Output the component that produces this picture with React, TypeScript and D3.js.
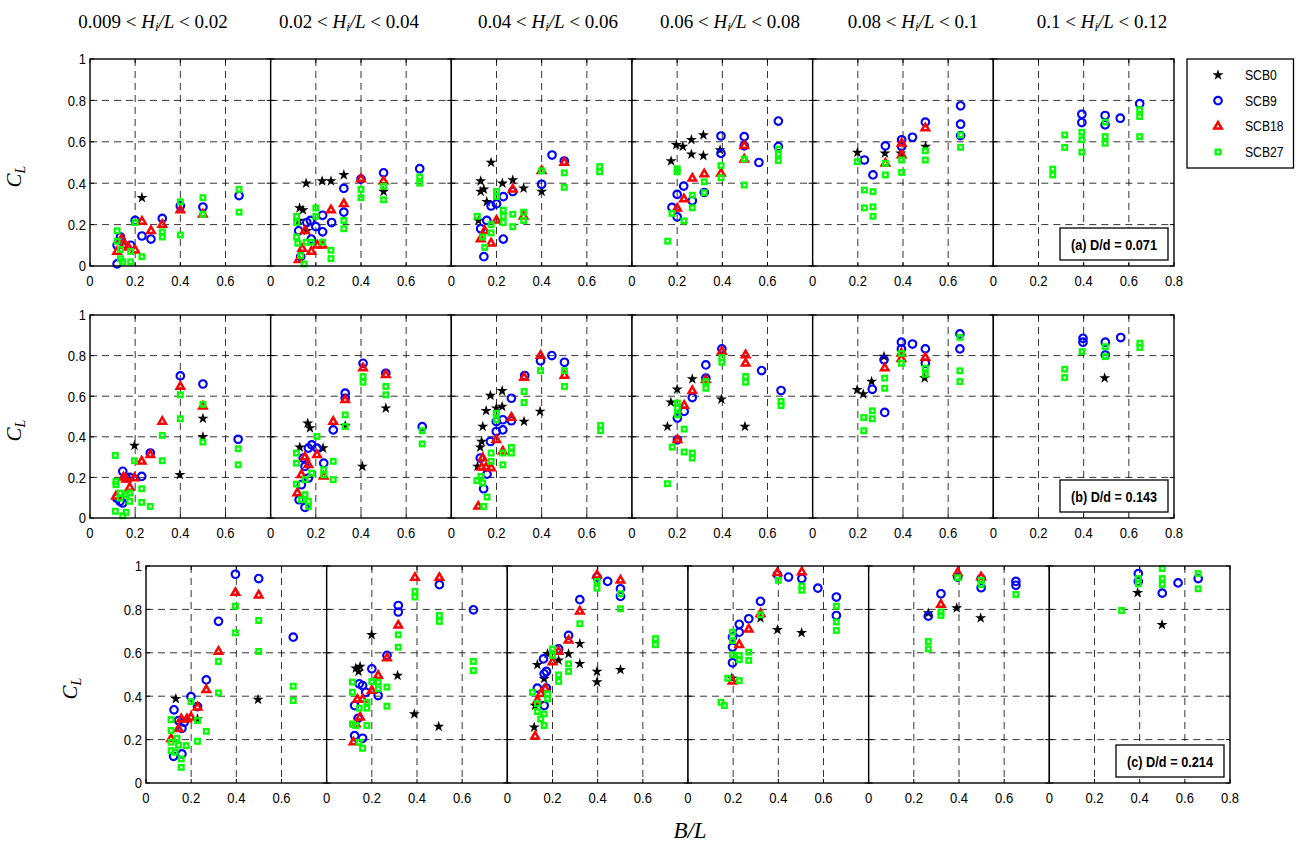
import * as d3 from 'd3'

type Pt = [number, number]

// header ranges of Hi/L, one per column
const LOWER = ['0.009', '0.02', '0.04', '0.06', '0.08', '0.1']
const UPPER = ['0.02', '0.04', '0.06', '0.08', '0.1', '0.12']
const SERIES = ['SCB0', 'SCB9', 'SCB18', 'SCB27']
const BOX_LABELS = ['(a) D/d = 0.071', '(b) D/d = 0.143', '(c) D/d = 0.214']
const X_TICKS = [0, 0.2, 0.4, 0.6, 0.8]
const Y_TICKS = [0, 0.2, 0.4, 0.6, 0.8, 1]

// ---- row (a) D/d = 0.071 : [B/L, CL] per column ----
const SCB0_A: Pt[][] = [
  [[0.23, 0.33]],
  [[0.125, 0.22], [0.128, 0.28], [0.143, 0.27], [0.157, 0.4], [0.16, 0.17], [0.228, 0.41], [0.267, 0.41], [0.324, 0.44], [0.5, 0.36]],
  [[0.12, 0.22], [0.13, 0.41], [0.13, 0.36], [0.144, 0.37], [0.157, 0.31], [0.176, 0.5], [0.226, 0.4], [0.272, 0.415], [0.32, 0.375], [0.4, 0.36]],
  [[0.173, 0.507], [0.196, 0.585], [0.225, 0.577], [0.263, 0.61], [0.316, 0.633], [0.263, 0.54], [0.316, 0.533], [0.39, 0.56]],
  [[0.198, 0.548], [0.32, 0.544], [0.39, 0.544], [0.5, 0.577]],
  [],
]
const SCB9_A: Pt[][] = [
  [[0.12, 0.01], [0.12, 0.1], [0.135, 0.14], [0.14, 0.12], [0.18, 0.1], [0.2, 0.22], [0.23, 0.145], [0.27, 0.13], [0.32, 0.23], [0.4, 0.29], [0.5, 0.285], [0.66, 0.34]],
  [[0.124, 0.17], [0.133, 0.045], [0.16, 0.21], [0.176, 0.22], [0.18, 0.13], [0.2, 0.19], [0.23, 0.245], [0.23, 0.165], [0.27, 0.21], [0.324, 0.375], [0.324, 0.26], [0.4, 0.42], [0.5, 0.45], [0.66, 0.47]],
  [[0.13, 0.18], [0.144, 0.045], [0.157, 0.22], [0.176, 0.29], [0.2, 0.3], [0.23, 0.335], [0.23, 0.13], [0.272, 0.36], [0.4, 0.395], [0.446, 0.536], [0.5, 0.507]],
  [[0.177, 0.283], [0.2, 0.237], [0.2, 0.346], [0.229, 0.386], [0.267, 0.315], [0.32, 0.355], [0.394, 0.628], [0.394, 0.544], [0.497, 0.625], [0.497, 0.58], [0.562, 0.5], [0.648, 0.7], [0.648, 0.577]],
  [[0.229, 0.512], [0.267, 0.44], [0.322, 0.58], [0.394, 0.577], [0.394, 0.61], [0.442, 0.622], [0.499, 0.695], [0.655, 0.774], [0.655, 0.685], [0.655, 0.63]],
  [[0.392, 0.733], [0.392, 0.693], [0.495, 0.727], [0.495, 0.682], [0.562, 0.714], [0.648, 0.784]],
]
const SCB18_A: Pt[][] = [
  [[0.12, 0.07], [0.14, 0.13], [0.15, 0.1], [0.17, 0.09], [0.2, 0.076], [0.23, 0.215], [0.27, 0.17], [0.32, 0.2], [0.4, 0.27], [0.5, 0.25]],
  [[0.124, 0.03], [0.14, 0.084], [0.152, 0.17], [0.18, 0.07], [0.207, 0.1], [0.23, 0.1], [0.267, 0.27], [0.324, 0.3], [0.4, 0.42], [0.5, 0.41]],
  [[0.13, 0.13], [0.148, 0.17], [0.176, 0.11], [0.2, 0.22], [0.272, 0.37], [0.32, 0.24], [0.4, 0.46], [0.5, 0.5]],
  [[0.2, 0.278], [0.23, 0.323], [0.267, 0.423], [0.32, 0.444], [0.394, 0.447], [0.497, 0.58], [0.497, 0.515]],
  [[0.322, 0.496], [0.394, 0.593], [0.394, 0.536], [0.499, 0.666]],
  [],
]
const SCB27_A: Pt[][] = [
  [[0.12, 0.17], [0.12, 0.12], [0.135, 0.08], [0.135, 0.035], [0.145, 0.02], [0.18, 0.07], [0.18, 0.02], [0.2, 0.21], [0.23, 0.045], [0.32, 0.165], [0.32, 0.14], [0.4, 0.31], [0.4, 0.15], [0.5, 0.33], [0.5, 0.25], [0.66, 0.37], [0.66, 0.26]],
  [[0.115, 0.24], [0.115, 0.21], [0.115, 0.14], [0.12, 0.11], [0.133, 0.05], [0.148, 0.01], [0.157, 0.115], [0.18, 0.115], [0.2, 0.28], [0.2, 0.24], [0.23, 0.115], [0.267, 0.076], [0.267, 0.036], [0.324, 0.22], [0.324, 0.18], [0.4, 0.37], [0.4, 0.33], [0.5, 0.385], [0.5, 0.32], [0.66, 0.43], [0.66, 0.4]],
  [[0.115, 0.24], [0.139, 0.14], [0.148, 0.09], [0.176, 0.2], [0.176, 0.16], [0.2, 0.36], [0.2, 0.335], [0.23, 0.27], [0.23, 0.24], [0.23, 0.21], [0.272, 0.25], [0.272, 0.19], [0.32, 0.26], [0.32, 0.22], [0.4, 0.46], [0.5, 0.45], [0.5, 0.38], [0.657, 0.48], [0.657, 0.455]],
  [[0.158, 0.12], [0.177, 0.254], [0.2, 0.47], [0.2, 0.455], [0.23, 0.218], [0.267, 0.342], [0.267, 0.281], [0.32, 0.407], [0.32, 0.354], [0.394, 0.485], [0.394, 0.426], [0.497, 0.517], [0.497, 0.391], [0.648, 0.565], [0.648, 0.54], [0.648, 0.509]],
  [[0.198, 0.504], [0.229, 0.367], [0.267, 0.359], [0.229, 0.281], [0.267, 0.286], [0.267, 0.24], [0.322, 0.496], [0.322, 0.44], [0.394, 0.512], [0.394, 0.452], [0.499, 0.557], [0.499, 0.512], [0.655, 0.633], [0.655, 0.573]],
  [[0.263, 0.468], [0.263, 0.44], [0.316, 0.633], [0.316, 0.573], [0.392, 0.646], [0.392, 0.61], [0.392, 0.55], [0.495, 0.695], [0.495, 0.625], [0.495, 0.593], [0.648, 0.755], [0.648, 0.722], [0.648, 0.625]],
]

// ---- row (b) D/d = 0.143 ----
const SCB0_B: Pt[][] = [
  [[0.197, 0.357], [0.398, 0.213], [0.5, 0.49], [0.5, 0.4]],
  [[0.129, 0.348], [0.164, 0.467], [0.174, 0.443], [0.232, 0.344], [0.33, 0.454], [0.406, 0.254], [0.51, 0.541]],
  [[0.116, 0.254], [0.128, 0.348], [0.134, 0.377], [0.139, 0.451], [0.154, 0.528], [0.173, 0.603], [0.199, 0.541], [0.225, 0.626], [0.225, 0.549], [0.322, 0.475], [0.393, 0.525]],
  [[0.157, 0.451], [0.172, 0.57], [0.2, 0.634], [0.267, 0.685], [0.396, 0.585], [0.5, 0.451]],
  [[0.197, 0.631], [0.224, 0.611], [0.261, 0.672], [0.316, 0.795], [0.496, 0.689]],
  [[0.493, 0.689]],
]
const SCB9_B: Pt[][] = [
  [[0.118, 0.098], [0.133, 0.082], [0.145, 0.23], [0.145, 0.074], [0.16, 0.197], [0.176, 0.2], [0.229, 0.205], [0.267, 0.32], [0.4, 0.7], [0.5, 0.66], [0.656, 0.388]],
  [[0.126, 0.09], [0.136, 0.164], [0.144, 0.295], [0.152, 0.254], [0.167, 0.344], [0.182, 0.36], [0.167, 0.197], [0.152, 0.052], [0.205, 0.344], [0.235, 0.27], [0.277, 0.434], [0.33, 0.615], [0.33, 0.59], [0.409, 0.762], [0.51, 0.713], [0.671, 0.45]],
  [[0.128, 0.295], [0.143, 0.144], [0.158, 0.216], [0.173, 0.377], [0.199, 0.426], [0.199, 0.475], [0.228, 0.484], [0.228, 0.434], [0.266, 0.59], [0.266, 0.479], [0.325, 0.702], [0.395, 0.774], [0.445, 0.8], [0.501, 0.767]],
  [[0.201, 0.385], [0.201, 0.492], [0.231, 0.525], [0.267, 0.593], [0.327, 0.754], [0.327, 0.689], [0.398, 0.833], [0.574, 0.726], [0.66, 0.628]],
  [[0.264, 0.634], [0.316, 0.779], [0.319, 0.52], [0.393, 0.866], [0.393, 0.833], [0.442, 0.857], [0.499, 0.833], [0.499, 0.762], [0.652, 0.907], [0.652, 0.833]],
  [[0.397, 0.885], [0.397, 0.866], [0.496, 0.866], [0.496, 0.803], [0.564, 0.889]],
]
const SCB18_B: Pt[][] = [
  [[0.115, 0.107], [0.148, 0.2], [0.16, 0.19], [0.176, 0.15], [0.197, 0.197], [0.229, 0.279], [0.267, 0.311], [0.32, 0.475], [0.4, 0.647], [0.5, 0.55]],
  [[0.118, 0.123], [0.136, 0.213], [0.152, 0.3], [0.167, 0.262], [0.205, 0.311], [0.235, 0.205], [0.277, 0.475], [0.33, 0.582], [0.409, 0.738], [0.51, 0.705]],
  [[0.119, 0.057], [0.134, 0.249], [0.139, 0.295], [0.154, 0.249], [0.176, 0.246], [0.199, 0.385], [0.228, 0.328], [0.266, 0.495], [0.322, 0.692], [0.395, 0.8], [0.501, 0.702]],
  [[0.201, 0.385], [0.231, 0.554], [0.267, 0.626], [0.327, 0.68], [0.398, 0.82], [0.503, 0.803], [0.503, 0.762]],
  [[0.319, 0.738], [0.393, 0.811], [0.393, 0.784], [0.499, 0.79]],
  [],
]
const SCB27_B: Pt[][] = [
  [[0.112, 0.308], [0.115, 0.18], [0.115, 0.164], [0.112, 0.033], [0.133, 0.123], [0.133, 0.098], [0.145, 0.011], [0.16, 0.028], [0.16, 0.115], [0.176, 0.082], [0.176, 0.123], [0.197, 0.282], [0.229, 0.144], [0.229, 0.077], [0.267, 0.057], [0.32, 0.407], [0.32, 0.282], [0.4, 0.607], [0.4, 0.489], [0.5, 0.56], [0.5, 0.374], [0.656, 0.341], [0.656, 0.262]],
  [[0.114, 0.32], [0.114, 0.27], [0.114, 0.167], [0.136, 0.09], [0.152, 0.115], [0.152, 0.189], [0.167, 0.082], [0.167, 0.057], [0.182, 0.221], [0.205, 0.402], [0.235, 0.238], [0.235, 0.213], [0.277, 0.279], [0.277, 0.189], [0.33, 0.508], [0.33, 0.451], [0.409, 0.697], [0.409, 0.669], [0.51, 0.648], [0.51, 0.607], [0.671, 0.43], [0.671, 0.365]],
  [[0.113, 0.184], [0.131, 0.205], [0.139, 0.172], [0.143, 0.057], [0.158, 0.103], [0.176, 0.32], [0.176, 0.279], [0.199, 0.516], [0.199, 0.484], [0.228, 0.32], [0.228, 0.262], [0.266, 0.348], [0.266, 0.32], [0.322, 0.623], [0.322, 0.569], [0.395, 0.726], [0.501, 0.726], [0.501, 0.648], [0.661, 0.456], [0.661, 0.43]],
  [[0.157, 0.169], [0.178, 0.349], [0.201, 0.566], [0.201, 0.541], [0.201, 0.508], [0.231, 0.438], [0.231, 0.325], [0.267, 0.32], [0.267, 0.295], [0.327, 0.672], [0.327, 0.639], [0.398, 0.79], [0.398, 0.767], [0.503, 0.697], [0.503, 0.669], [0.66, 0.574], [0.66, 0.554]],
  [[0.226, 0.495], [0.226, 0.43], [0.264, 0.528], [0.264, 0.489], [0.319, 0.689], [0.319, 0.639], [0.393, 0.811], [0.393, 0.762], [0.499, 0.738], [0.499, 0.708], [0.652, 0.89], [0.652, 0.725], [0.652, 0.672]],
  [[0.316, 0.733], [0.316, 0.692], [0.393, 0.82], [0.496, 0.844], [0.496, 0.795], [0.649, 0.861], [0.649, 0.84]],
]

// ---- row (c) D/d = 0.214 ----
const SCB0_C: Pt[][] = [
  [[0.132, 0.388], [0.228, 0.295], [0.496, 0.385]],
  [[0.129, 0.529], [0.148, 0.537], [0.141, 0.514], [0.199, 0.683], [0.314, 0.495], [0.388, 0.318], [0.496, 0.26]],
  [[0.119, 0.257], [0.123, 0.357], [0.133, 0.545], [0.163, 0.48], [0.178, 0.595], [0.227, 0.565], [0.271, 0.595], [0.321, 0.642], [0.321, 0.549], [0.397, 0.514], [0.397, 0.465], [0.501, 0.522]],
  [[0.194, 0.483], [0.321, 0.76], [0.396, 0.706], [0.503, 0.692]],
  [[0.264, 0.783], [0.39, 0.806], [0.496, 0.76]],
  [[0.391, 0.877], [0.499, 0.729]],
]
const SCB9_C: Pt[][] = [
  [[0.122, 0.123], [0.124, 0.337], [0.144, 0.288], [0.159, 0.252], [0.169, 0.28], [0.159, 0.134], [0.199, 0.398], [0.228, 0.352], [0.267, 0.475], [0.321, 0.745], [0.396, 0.962], [0.499, 0.942], [0.652, 0.672]],
  [[0.124, 0.357], [0.124, 0.218], [0.139, 0.298], [0.144, 0.457], [0.159, 0.449], [0.159, 0.206], [0.173, 0.418], [0.2, 0.526], [0.228, 0.403], [0.267, 0.588], [0.317, 0.818], [0.317, 0.788], [0.499, 0.914], [0.65, 0.798]],
  [[0.133, 0.437], [0.16, 0.572], [0.163, 0.503], [0.173, 0.514], [0.163, 0.357], [0.173, 0.437], [0.227, 0.618], [0.271, 0.68], [0.321, 0.845], [0.397, 0.949], [0.444, 0.929], [0.501, 0.895], [0.501, 0.86]],
  [[0.197, 0.554], [0.197, 0.626], [0.197, 0.672], [0.227, 0.731], [0.227, 0.695], [0.269, 0.757], [0.321, 0.837], [0.396, 0.96], [0.445, 0.949], [0.504, 0.942], [0.575, 0.898], [0.657, 0.857], [0.657, 0.772]],
  [[0.264, 0.769], [0.32, 0.872], [0.394, 0.949], [0.498, 0.942], [0.498, 0.9], [0.652, 0.929], [0.652, 0.911]],
  [[0.394, 0.965], [0.394, 0.929], [0.5, 0.875], [0.57, 0.922], [0.659, 0.942]],
]
const SCB18_C: Pt[][] = [
  [[0.111, 0.203], [0.144, 0.249], [0.156, 0.295], [0.181, 0.295], [0.199, 0.303], [0.228, 0.349], [0.267, 0.429], [0.321, 0.606], [0.396, 0.877], [0.499, 0.865]],
  [[0.119, 0.188], [0.129, 0.272], [0.136, 0.385], [0.148, 0.303], [0.159, 0.385], [0.2, 0.426], [0.228, 0.495], [0.267, 0.575], [0.317, 0.726], [0.391, 0.946], [0.499, 0.946]],
  [[0.123, 0.215], [0.133, 0.38], [0.148, 0.411], [0.168, 0.434], [0.2, 0.557], [0.227, 0.606], [0.271, 0.657], [0.321, 0.791], [0.397, 0.957], [0.501, 0.934]],
  [[0.197, 0.468], [0.227, 0.637], [0.269, 0.708], [0.321, 0.78], [0.396, 0.969], [0.504, 0.972]],
  [[0.32, 0.822], [0.394, 0.969], [0.498, 0.949]],
  [],
]
const SCB27_C: Pt[][] = [
  [[0.111, 0.292], [0.111, 0.242], [0.111, 0.188], [0.111, 0.149], [0.129, 0.142], [0.137, 0.206], [0.144, 0.175], [0.156, 0.111], [0.156, 0.072], [0.178, 0.172], [0.199, 0.375], [0.228, 0.288], [0.228, 0.192], [0.267, 0.238], [0.321, 0.56], [0.321, 0.415], [0.396, 0.815], [0.396, 0.692], [0.499, 0.749], [0.499, 0.606], [0.652, 0.446], [0.652, 0.38]],
  [[0.114, 0.465], [0.114, 0.418], [0.114, 0.272], [0.129, 0.265], [0.144, 0.188], [0.144, 0.345], [0.159, 0.16], [0.178, 0.265], [0.178, 0.372], [0.178, 0.345], [0.2, 0.468], [0.228, 0.465], [0.228, 0.434], [0.267, 0.442], [0.267, 0.354], [0.317, 0.683], [0.317, 0.626], [0.391, 0.883], [0.391, 0.857], [0.499, 0.772], [0.499, 0.745], [0.65, 0.56], [0.65, 0.518]],
  [[0.111, 0.418], [0.133, 0.365], [0.133, 0.329], [0.148, 0.295], [0.163, 0.318], [0.163, 0.265], [0.178, 0.411], [0.178, 0.388], [0.2, 0.618], [0.2, 0.588], [0.227, 0.498], [0.227, 0.468], [0.271, 0.549], [0.271, 0.514], [0.321, 0.734], [0.397, 0.929], [0.397, 0.898], [0.501, 0.872], [0.501, 0.803], [0.656, 0.665], [0.656, 0.637]],
  [[0.146, 0.372], [0.161, 0.357], [0.176, 0.483], [0.197, 0.591], [0.197, 0.695], [0.197, 0.657], [0.227, 0.588], [0.227, 0.568], [0.227, 0.472], [0.269, 0.603], [0.269, 0.565], [0.321, 0.775], [0.4, 0.934], [0.504, 0.908], [0.504, 0.888], [0.657, 0.815], [0.657, 0.742], [0.657, 0.703]],
  [[0.264, 0.652], [0.264, 0.618], [0.32, 0.788], [0.32, 0.772], [0.394, 0.946], [0.498, 0.934], [0.498, 0.914], [0.652, 0.869]],
  [[0.32, 0.795], [0.394, 0.942], [0.394, 0.918], [0.5, 0.988], [0.5, 0.942], [0.5, 0.915], [0.659, 0.965], [0.659, 0.895]],
]

const ROW_DATA = [
  [SCB0_A, SCB9_A, SCB18_A, SCB27_A],
  [SCB0_B, SCB9_B, SCB18_B, SCB27_B],
  [SCB0_C, SCB9_C, SCB18_C, SCB27_C],
]

// layout
const W = 1299
const H = 843
const ROW_W = 1084
const PANEL_W = ROW_W / 6
const ROWS = [
  { left: 90, top: 59, bottom: 266 },
  { left: 90, top: 315, bottom: 518 },
  { left: 146, top: 566, bottom: 783 },
]
const TITLE_X = [153, 349, 548, 730, 913, 1102]
const SANS = '"Liberation Sans", Arial, sans-serif'
const SERIF = '"Liberation Serif", "Times New Roman", serif'
const COLORS = ['#000000', '#0000ff', '#ff0000', '#00ff00']

const starD = d3.symbol().type(d3.symbolStar).size(38)() as string
const triD = d3.symbol().type(d3.symbolTriangle).size(24)() as string

function Marker({ s }: { s: number }) {
  if (s === 0) return <path d={starD} fill={COLORS[0]} />
  if (s === 1) return <circle r={3.8} fill="none" stroke={COLORS[1]} strokeWidth={2.1} />
  if (s === 2) return <path d={triD} fill="none" stroke={COLORS[2]} strokeWidth={2.5} />
  return <rect x={-2.3} y={-2.3} width={4.6} height={4.6} fill="none" stroke={COLORS[3]} strokeWidth={2.3} />
}

// condensed sans label, like the exported figure
function Sans({ x, y, anchor = 'middle', size = 15, sx = 0.87, children }: any) {
  return (
    <text
      transform={`translate(${x},${y}) scale(${sx},1)`}
      textAnchor={anchor}
      fontFamily={SANS}
      fontSize={size}
      fill="#000"
    >
      {children}
    </text>
  )
}

function Row({ ri }: { ri: number }) {
  const g = ROWS[ri]
  const y = d3.scaleLinear().domain([0, 1]).range([g.bottom, g.top])
  const xs = d3.range(6).map(p =>
    d3.scaleLinear().domain([0, 0.8]).range([g.left + p * PANEL_W, g.left + (p + 1) * PANEL_W])
  )
  const right = g.left + ROW_W
  const cy = (g.top + g.bottom) / 2

  return (
    <g>
      {xs.map((x, p) => (
        <g key={p}>
          <rect x={x(0)} y={g.top} width={PANEL_W} height={g.bottom - g.top} fill="#fff" />
          {X_TICKS.slice(1, 4).map(t => (
            <line key={'v' + t} x1={x(t)} x2={x(t)} y1={g.top} y2={g.bottom}
              stroke="#000" strokeWidth={0.8} strokeDasharray="7 5" />
          ))}
          {Y_TICKS.slice(1, 5).map(t => (
            <line key={'h' + t} x1={x(0)} x2={x(0.8)} y1={y(t)} y2={y(t)}
              stroke="#000" strokeWidth={0.8} strokeDasharray="7 5" />
          ))}
          {X_TICKS.map(t => (
            <g key={'t' + t}>
              <line x1={x(t)} x2={x(t)} y1={g.bottom} y2={g.bottom - 4} stroke="#000" strokeWidth={1} />
              <line x1={x(t)} x2={x(t)} y1={g.top} y2={g.top + 4} stroke="#000" strokeWidth={1} />
            </g>
          ))}
          {Y_TICKS.map(t => (
            <g key={'yt' + t}>
              <line x1={x(0)} x2={x(0) + 4} y1={y(t)} y2={y(t)} stroke="#000" strokeWidth={1} />
              <line x1={x(0.8)} x2={x(0.8) - 4} y1={y(t)} y2={y(t)} stroke="#000" strokeWidth={1} />
            </g>
          ))}
          {ROW_DATA[ri].map((series, s) => (
            <g key={'s' + s}>
              {series[p].map((d, k) => (
                <g key={k} transform={`translate(${x(d[0])},${y(d[1])})`}>
                  <Marker s={s} />
                </g>
              ))}
            </g>
          ))}
          <rect x={x(0)} y={g.top} width={PANEL_W} height={g.bottom - g.top}
            fill="none" stroke="#000" strokeWidth={1.4} />
          {(p === 5 ? X_TICKS : X_TICKS.slice(0, 4)).map(t => (
            <Sans key={'xl' + t} x={x(t)} y={g.bottom + 20}>{t === 0 ? '0' : d3.format('.1f')(t)}</Sans>
          ))}
        </g>
      ))}

      {Y_TICKS.map(t => (
        <Sans key={'yl' + t} x={g.left - 4} y={y(t) + 5.3} anchor="end">
          {t === 0 ? '0' : t === 1 ? '1' : d3.format('.1f')(t)}
        </Sans>
      ))}

      <text transform={`translate(${g.left - 69},${cy + 14}) rotate(-90)`} textAnchor="middle"
        fontFamily={SERIF} fontStyle="italic" fontSize={21} fill="#000">
        C<tspan fontSize={14} dy={4}>L</tspan>
      </text>

      <rect x={right - 114} y={g.bottom - 38} width={108} height={32} fill="#fff" stroke="#000" strokeWidth={1.3} />
      <text x={right - 60} y={g.bottom - 16.5} textAnchor="middle" fontFamily={SANS} fontSize={15}
        fontWeight="bold" textLength={86} lengthAdjust="spacingAndGlyphs">
        {BOX_LABELS[ri]}
      </text>
    </g>
  )
}

export default function App() {
  const legendY = d3.scalePoint<string>().domain(SERIES).range([75, 152])
  return (
    <svg width={W} height={H} style={{ position: 'absolute', left: 0, top: 0, background: '#fff' }}>
      <rect width={W} height={H} fill="#fff" />

      {LOWER.map((lo, i) => (
        <text key={lo} x={TITLE_X[i]} y={28} textAnchor="middle" fontFamily={SERIF} fontSize={19} fill="#000">
          {lo} &lt; <tspan fontStyle="italic">H</tspan>
          <tspan fontStyle="italic" fontSize={13} dy={3}>i</tspan>
          <tspan fontStyle="italic" dy={-3}>/L</tspan> &lt; {UPPER[i]}
        </text>
      ))}

      {ROWS.map((_, ri) => <Row key={ri} ri={ri} />)}

      <text x={ROWS[2].left + ROW_W / 2 + 2} y={838} textAnchor="middle" fontFamily={SERIF}
        fontStyle="italic" fontSize={23} fill="#000">B/L</text>

      <rect x={1187} y={59} width={106.5} height={109} fill="#fff" stroke="#000" strokeWidth={1.3} />
      {SERIES.map((name, s) => (
        <g key={name}>
          <g transform={`translate(1218,${legendY(name)})`}><Marker s={s} /></g>
          <Sans x={1245} y={(legendY(name) as number) + 5} anchor="start" size={14}>{name}</Sans>
        </g>
      ))}
    </svg>
  )
}
